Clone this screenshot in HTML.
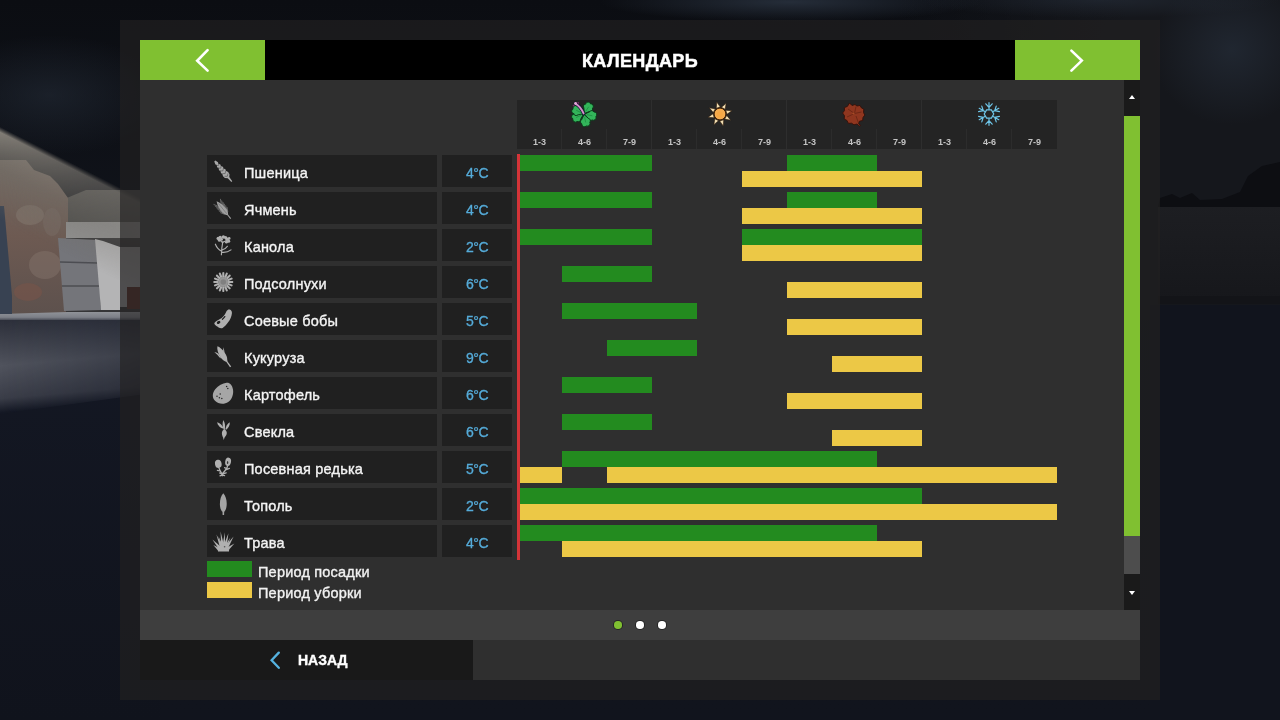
<!DOCTYPE html>
<html><head><meta charset="utf-8"><title>Календарь</title>
<style>
*{margin:0;padding:0;box-sizing:border-box}
html,body{width:1280px;height:720px;overflow:hidden;background:#10131b;font-family:"Liberation Sans",sans-serif}
#bg{position:absolute;left:0;top:0;width:1280px;height:720px}
#frame{position:absolute;left:120px;top:20px;width:1040px;height:680px;background:rgba(35,34,33,.63)}
.abs,.rb,.tb,.rn,.ci,.g,.y,.red{position:absolute}
#title,#backt,.rn,.tb,.sl,.lg{will-change:transform}
#hdr{left:140px;top:40px;width:1000px;height:40px;background:#000}
.gbtn{top:40px;width:125px;height:40px;background:#80c031}
#title{left:140px;top:40px;width:1000px;height:40px;line-height:43.400px;text-align:center;color:#fff;font-weight:bold;font-size:18px;letter-spacing:.4px;-webkit-text-stroke:.5px #fff}
#content{left:140px;top:80px;width:1000px;height:530px;background:#2f2f2f}
#pager{left:140px;top:610px;width:1000px;height:30px;background:#3e3e3e}
#bottom{left:140px;top:640px;width:1000px;height:40px;background:#2f2f2f}
#back{left:140px;top:640px;width:333px;height:40px;background:#191919}
#backt{left:297.700px;top:640px;height:40px;line-height:40px;color:#fff;font-weight:bold;font-size:14px;-webkit-text-stroke:.4px #fff}
.rb{left:207px;width:230px;height:32px;background:#202020}
.tb{left:442px;width:70px;height:32px;background:#202020;color:#55abd9;font-size:14px;text-align:center;line-height:37px;letter-spacing:-.5px;-webkit-text-stroke:.3px #55abd9}
.rn{left:244px;height:32px;line-height:37px;color:#f4f4f4;font-size:14.5px;letter-spacing:.2px;white-space:nowrap;-webkit-text-stroke:.35px #f4f4f4}
.ci{left:207px}
.g{height:16px;background:#238b1f}
.y{height:16px;background:#ecc846}
.red{left:516.5px;top:153.500px;width:3px;height:406px;background:#d43438}
#shead{left:517px;top:99.500px;width:540px;height:49px;background:#242424}
.sl{position:absolute;top:136.500px;width:45px;text-align:center;color:#c4c4c4;font-size:9px;font-weight:bold;line-height:10px}
.sep{position:absolute;top:99px;width:1px;height:50px;background:#2e2e2e}
.tick{position:absolute;top:129px;width:1px;height:20px;background:#2c2c2c}
.lg{position:absolute;left:257.5px;color:#f2f2f2;font-size:14.5px;letter-spacing:.2px;line-height:16px;white-space:nowrap;-webkit-text-stroke:.35px #f2f2f2}
.dot{position:absolute;top:621.250px;width:7.500px;height:7.500px;border-radius:50%;background:#fff;box-shadow:0 0 0 1px rgba(34,34,34,.85)}
#sb{left:1124px;top:80px;width:16px;height:530px;background:#1a1a1a}
#sbthumb{left:1124px;top:116px;width:16px;height:420px;background:#80c031}
#sbtrack{left:1124px;top:536px;width:16px;height:38px;background:#4d4d4d}
</style></head><body>
<svg id="bg" width="1280" height="720" viewBox="0 0 1280 720">
<defs>
<linearGradient id="sky" x1="0" y1="0" x2="0" y2="1"><stop offset="0" stop-color="#0b0d12"/><stop offset=".3" stop-color="#10131a"/><stop offset="1" stop-color="#11141d"/></linearGradient>
<linearGradient id="skyr" x1="0" y1="0" x2="1" y2="0"><stop offset="0" stop-color="#15171c" stop-opacity="0"/><stop offset=".6" stop-color="#15171c" stop-opacity="1"/><stop offset="1" stop-color="#15171c" stop-opacity="1"/></linearGradient>
<linearGradient id="gnd" x1="0" y1="0" x2="0" y2="1"><stop offset="0" stop-color="#666971"/><stop offset=".12" stop-color="#50535c"/><stop offset=".35" stop-color="#363a45"/><stop offset=".7" stop-color="#1b1f2a"/><stop offset="1" stop-color="#11141d"/></linearGradient>
<linearGradient id="beam" gradientUnits="userSpaceOnUse" x1="60" y1="157" x2="22" y2="232"><stop offset="0" stop-color="#77726a" stop-opacity="0"/><stop offset=".06" stop-color="#87827a" stop-opacity=".95"/><stop offset=".45" stop-color="#726e67" stop-opacity=".7"/><stop offset="1" stop-color="#6a665f" stop-opacity="0"/></linearGradient>
<linearGradient id="bfade" x1="0" y1="0" x2="1" y2="0"><stop offset="0" stop-color="#fff"/><stop offset=".55" stop-color="#999"/><stop offset="1" stop-color="#555"/></linearGradient>
<mask id="bm"><rect x="0" y="100" width="160" height="220" fill="url(#bfade)"/></mask>
<radialGradient id="cloud" cx=".5" cy=".5" r=".5"><stop offset="0" stop-color="#252d39"/><stop offset="1" stop-color="#252d39" stop-opacity="0"/></radialGradient>
<linearGradient id="rwall" x1="0" y1="0" x2="0" y2="1"><stop offset="0" stop-color="#1d1e22"/><stop offset="1" stop-color="#16171b"/></linearGradient>
<linearGradient id="brick" x1="0" y1="0" x2="0" y2="1"><stop offset="0" stop-color="#756760"/><stop offset=".5" stop-color="#6d5a52"/><stop offset="1" stop-color="#5d514d"/></linearGradient>
<linearGradient id="gl" x1="0" y1="0" x2="0" y2="1"><stop offset="0" stop-color="#94979d"/><stop offset=".7" stop-color="#7c7f87"/><stop offset="1" stop-color="#4a4d57"/></linearGradient>
<linearGradient id="gb" gradientUnits="userSpaceOnUse" x1="0" y1="319" x2="8" y2="412"><stop offset="0" stop-color="#2c2f3a"/><stop offset=".5" stop-color="#50535d"/><stop offset=".85" stop-color="#3a3d48"/><stop offset="1" stop-color="#141824"/></linearGradient>
<linearGradient id="gmf" x1="0" y1="0" x2="1" y2="0"><stop offset="0" stop-color="#fff"/><stop offset="1" stop-color="#9a9a9a"/></linearGradient>
<mask id="gm"><rect x="0" y="300" width="160" height="130" fill="url(#gmf)"/></mask>
<linearGradient id="gbase" x1="0" y1="0" x2="0" y2="1"><stop offset="0" stop-color="#141824"/><stop offset="1" stop-color="#10131c"/></linearGradient>
</defs>
<rect width="1280" height="720" fill="url(#sky)"/>
<rect x="900" y="0" width="380" height="320" fill="url(#skyr)"/>
<ellipse cx="790" cy="2" rx="190" ry="20" fill="url(#cloud)"/>
<ellipse cx="1232" cy="50" rx="80" ry="75" fill="url(#cloud)" opacity=".7"/>
<ellipse cx="1100" cy="0" rx="180" ry="18" fill="url(#cloud)" opacity=".6"/>
<ellipse cx="50" cy="95" rx="120" ry="60" fill="url(#cloud)" opacity=".55"/>
<!-- left scene -->
<rect x="0" y="312" width="160" height="408" fill="url(#gbase)"/>

<polygon points="0,319 160,319 160,392 0,414" fill="url(#gb)" mask="url(#gm)"/>
<rect x="0" y="311" width="160" height="9" fill="url(#gl)"/>
<polygon points="62,200 86,190 160,190 160,224 66,224" fill="#4b4b4a"/>
<polygon points="0,160 26,160 34,170 50,176 58,184 68,198 68,312 0,314" fill="url(#brick)"/>
<ellipse cx="30" cy="215" rx="14" ry="10" fill="#8a7d74" opacity=".5"/><ellipse cx="45" cy="265" rx="16" ry="14" fill="#85766c" opacity=".45"/><ellipse cx="28" cy="292" rx="14" ry="9" fill="#7c5348" opacity=".5"/><ellipse cx="52" cy="222" rx="9" ry="14" fill="#7d6f68" opacity=".45"/>
<polygon points="0,206 4,206 12,296 12,314 0,314" fill="#384252"/>
<rect x="66" y="222" width="94" height="16" fill="#949494"/>
<rect x="66" y="238" width="94" height="74" fill="#353537"/>
<polygon points="58,238 97,240 101,310 64,311" fill="#74757a"/>
<path d="M60,262 L98,263 M62,286 L99,286" stroke="#4c4d52" stroke-width="1.5"/>
<polygon points="95,239 103,241 120,247 120,310 101,310" fill="#b4b4b5"/>
<rect x="120" y="247" width="24" height="60" fill="#98989a"/>
<rect x="127" y="287" width="14" height="22" fill="#56302a"/>
<polygon points="0,126 160,208 160,330 0,250" fill="url(#beam)" mask="url(#bm)"/>
<!-- right scene -->
<rect x="1158" y="206" width="122" height="98" fill="url(#rwall)"/>
<path d="M1158,207 L1160,198 L1172,194 L1180,198 L1192,193 L1200,200 L1222,199 L1240,192 L1248,176 L1262,166 L1280,162 L1280,207 Z" fill="#0d0e12"/>
<rect x="1150" y="305" width="130" height="415" fill="#11141d"/>
<rect x="1158" y="296" width="122" height="8" fill="#131418"/>
</svg>
<div id="frame"></div>
<div id="hdr" class="abs"></div>
<div class="abs gbtn" style="left:140px"></div>
<div class="abs gbtn" style="left:1015px"></div>
<svg class="abs" style="left:190px;top:44px" width="26" height="32" viewBox="0 0 26 32"><path d="M17.6,6.2 L7.2,16.8 L17.6,26.6" fill="none" stroke="#fff" stroke-width="2.6" stroke-linecap="round" stroke-linejoin="miter"/></svg>
<svg class="abs" style="left:1064px;top:44px" width="26" height="32" viewBox="0 0 26 32"><path d="M7.4,6.6 L17.8,16.6 L7.4,26.6" fill="none" stroke="#fff" stroke-width="2.6" stroke-linecap="round" stroke-linejoin="miter"/></svg>
<div id="title" class="abs">КАЛЕНДАРЬ</div>
<div id="content" class="abs"></div>
<div id="shead" class="abs"></div>
<div class="sl" style="left:517px">1-3</div>
<div class="sl" style="left:562px">4-6</div>
<div class="tick" style="left:561px"></div>
<div class="sl" style="left:607px">7-9</div>
<div class="tick" style="left:606px"></div>
<div class="sl" style="left:652px">1-3</div>
<div class="sep" style="left:651px"></div>
<div class="sl" style="left:697px">4-6</div>
<div class="tick" style="left:696px"></div>
<div class="sl" style="left:742px">7-9</div>
<div class="tick" style="left:741px"></div>
<div class="sl" style="left:787px">1-3</div>
<div class="sep" style="left:786px"></div>
<div class="sl" style="left:832px">4-6</div>
<div class="tick" style="left:831px"></div>
<div class="sl" style="left:877px">7-9</div>
<div class="tick" style="left:876px"></div>
<div class="sl" style="left:922px">1-3</div>
<div class="sep" style="left:921px"></div>
<div class="sl" style="left:967px">4-6</div>
<div class="tick" style="left:966px"></div>
<div class="sl" style="left:1012px">7-9</div>
<div class="tick" style="left:1011px"></div>
<svg class="abs" style="left:569px;top:99px" width="30" height="30" viewBox="-15 -15 30 30"><g transform="rotate(-57.2)"><path d="M0.6,0 L5.2,-3.5 A2.3,2.3 0 0 1 9.2,-4.1 A2.7,2.7 0 0 1 12.2,0 A2.7,2.7 0 0 1 9.2,4.1 A2.3,2.3 0 0 1 5.2,3.5 Z" fill="#33b45a" stroke="#0b3a1a" stroke-width=".9" stroke-linejoin="round"/><path d="M3,0 L8.6,0" stroke="#1d8a40" stroke-width=".7" fill="none"/></g><g transform="rotate(12.2)"><path d="M0.6,0 L5.2,-3.5 A2.3,2.3 0 0 1 9.2,-4.1 A2.7,2.7 0 0 1 12.2,0 A2.7,2.7 0 0 1 9.2,4.1 A2.3,2.3 0 0 1 5.2,3.5 Z" fill="#33b45a" stroke="#0b3a1a" stroke-width=".9" stroke-linejoin="round"/><path d="M3,0 L8.6,0" stroke="#1d8a40" stroke-width=".7" fill="none"/></g><g transform="rotate(78.8)"><path d="M0.6,0 L5.2,-3.5 A2.3,2.3 0 0 1 9.2,-4.1 A2.7,2.7 0 0 1 12.2,0 A2.7,2.7 0 0 1 9.2,4.1 A2.3,2.3 0 0 1 5.2,3.5 Z" fill="#33b45a" stroke="#0b3a1a" stroke-width=".9" stroke-linejoin="round"/><path d="M3,0 L8.6,0" stroke="#1d8a40" stroke-width=".7" fill="none"/></g><g transform="rotate(156.3)"><path d="M0.6,0 L5.2,-3.5 A2.3,2.3 0 0 1 9.2,-4.1 A2.7,2.7 0 0 1 12.2,0 A2.7,2.7 0 0 1 9.2,4.1 A2.3,2.3 0 0 1 5.2,3.5 Z" fill="#33b45a" stroke="#0b3a1a" stroke-width=".9" stroke-linejoin="round"/><path d="M3,0 L8.6,0" stroke="#1d8a40" stroke-width=".7" fill="none"/></g><g transform="rotate(-154.5)"><path d="M0.6,0 L5.2,-3.5 A2.3,2.3 0 0 1 9.2,-4.1 A2.7,2.7 0 0 1 12.2,0 A2.7,2.7 0 0 1 9.2,4.1 A2.3,2.3 0 0 1 5.2,3.5 Z" fill="#33b45a" stroke="#0b3a1a" stroke-width=".9" stroke-linejoin="round"/><path d="M3,0 L8.6,0" stroke="#1d8a40" stroke-width=".7" fill="none"/></g><path d="M-8.6,-10.4 C-5,-8.5 -2.2,-4.5 -0.4,-0.6" fill="none" stroke="#0e1430" stroke-width="3.4" stroke-linecap="round"/><path d="M-8.6,-10.4 C-5,-8.5 -2.2,-4.5 -0.4,-0.6" fill="none" stroke="#d590c8" stroke-width="1.9" stroke-linecap="round"/><circle cx="-8.4" cy="-10.6" r="1.4" fill="#e3a6d6"/><circle cx="-5.8" cy="-11.2" r=".9" fill="#7a2a6a"/><circle cx="-10.4" cy="-8.4" r=".9" fill="#7a2a6a"/></svg>
<svg class="abs" style="left:704.5px;top:99px" width="30" height="30" viewBox="-15 -15 30 30"><g transform="rotate(-105)"><path d="M6.6,-2.1 L12.3,0 L6.6,2.1Z" fill="#f3e0b4" stroke="#2a1606" stroke-width=".5"/></g><g transform="rotate(-60)"><path d="M6.6,-2.1 L12.3,0 L6.6,2.1Z" fill="#f3e0b4" stroke="#2a1606" stroke-width=".5"/></g><g transform="rotate(-15)"><path d="M6.6,-2.1 L12.3,0 L6.6,2.1Z" fill="#f3e0b4" stroke="#2a1606" stroke-width=".5"/></g><g transform="rotate(30)"><path d="M6.6,-2.1 L12.3,0 L6.6,2.1Z" fill="#f3e0b4" stroke="#2a1606" stroke-width=".5"/></g><g transform="rotate(75)"><path d="M6.6,-2.1 L12.3,0 L6.6,2.1Z" fill="#f3e0b4" stroke="#2a1606" stroke-width=".5"/></g><g transform="rotate(120)"><path d="M6.6,-2.1 L12.3,0 L6.6,2.1Z" fill="#f3e0b4" stroke="#2a1606" stroke-width=".5"/></g><g transform="rotate(165)"><path d="M6.6,-2.1 L12.3,0 L6.6,2.1Z" fill="#f3e0b4" stroke="#2a1606" stroke-width=".5"/></g><g transform="rotate(210)"><path d="M6.6,-2.1 L12.3,0 L6.6,2.1Z" fill="#f3e0b4" stroke="#2a1606" stroke-width=".5"/></g><circle r="5.9" fill="#f5ab4e" stroke="#3b1c02" stroke-width="1"/><circle r="3" cx="-.3" cy=".6" fill="#f7a53c" opacity=".6"/></svg>
<svg class="abs" style="left:839px;top:98.500px" width="30" height="30" viewBox="-15 -15 30 30"><path d="M-4.5,-11 L-2,-8.5 L1,-9.5 L3,-8 L6,-8.5 L7.5,-6 L9.8,-5 L9.5,-1.5 L10.8,1 L9,3.5 L8.6,6.5 L5.5,7.2 L4.6,9.6 L6.6,11.4 L5.4,12 L3,10 L0,10.8 L-2.5,9.2 L-5.6,9.4 L-7,6.5 L-9.8,5 L-9.5,1.8 L-11.4,-1 L-9.5,-3.4 L-9.6,-6.4 L-6.6,-7.6 Z" fill="#8f361f" stroke="#33110a" stroke-width=".9"/><path d="M0.5,-0.5 L-6,-5 M0.5,-.5 L-7,3 M0.5,-.5 L2,-7.5 M0.5,-.5 L7.5,-2 M2,2 L4.5,9" stroke="#5b1f10" stroke-width=".8" fill="none" opacity=".8"/><circle cx="-.5" cy="-.5" r="1.1" fill="#a84c26"/></svg>
<svg class="abs" style="left:974.25px;top:99px" width="30" height="30" viewBox="-15 -15 30 30"><g stroke="#6fc6e9" stroke-width="1.2" fill="none" stroke-linecap="round"><polygon points="4.80,0.00 2.40,4.16 -2.40,4.16 -4.80,0.00 -2.40,-4.16 2.40,-4.16"/><g transform="rotate(-90)"><path d="M4.8,0 L11.3,0 M6.6,0 L10.2,-3.2 M6.6,0 L10.2,3.2"/></g><g transform="rotate(-30)"><path d="M4.8,0 L11.3,0 M6.6,0 L10.2,-3.2 M6.6,0 L10.2,3.2"/></g><g transform="rotate(30)"><path d="M4.8,0 L11.3,0 M6.6,0 L10.2,-3.2 M6.6,0 L10.2,3.2"/></g><g transform="rotate(90)"><path d="M4.8,0 L11.3,0 M6.6,0 L10.2,-3.2 M6.6,0 L10.2,3.2"/></g><g transform="rotate(150)"><path d="M4.8,0 L11.3,0 M6.6,0 L10.2,-3.2 M6.6,0 L10.2,3.2"/></g><g transform="rotate(210)"><path d="M4.8,0 L11.3,0 M6.6,0 L10.2,-3.2 M6.6,0 L10.2,3.2"/></g></g></svg>

<div class="rb" style="top:155px"></div><div class="tb" style="top:155px">4°C</div>
<div class="rn" style="top:155px">Пшеница</div>
<svg class="ci" style="top:155px" width="30" height="32" viewBox="0 0 30 32"><g transform="translate(7.8 6) rotate(50.6)"><polygon points="0,-0.7 3,-1.7 4,-1.1 6.5,-2.2 7.5,-1.5 10,-2.6 11,-1.9 13.5,-3.0 14.5,-2.3 17,-3.3 19.5,-3.0 21.6,-1.0 26.8,-0.6 26.8,0.6 21.6,1.0 19.5,3.0 17,3.3 14.5,2.3 13.5,3.0 11,1.9 10,2.6 7.5,1.5 6.5,2.2 4,1.1 3,1.7 0,0.7" fill="#a8a8a8"/><path d="M4,-2.2 L5.8,0 L4,2.2" stroke="#1e1e1e" stroke-width=".55" fill="none" opacity=".65"/><path d="M7.5,-2.2 L9.3,0 L7.5,2.2" stroke="#1e1e1e" stroke-width=".55" fill="none" opacity=".65"/><path d="M11,-2.2 L12.8,0 L11,2.2" stroke="#1e1e1e" stroke-width=".55" fill="none" opacity=".65"/><path d="M14.5,-2.2 L16.3,0 L14.5,2.2" stroke="#1e1e1e" stroke-width=".55" fill="none" opacity=".65"/><path d="M18,-2.2 L19.8,0 L18,2.2" stroke="#1e1e1e" stroke-width=".55" fill="none" opacity=".65"/></g></svg>
<div class="rb" style="top:192px"></div><div class="tb" style="top:192px">4°C</div>
<div class="rn" style="top:192px">Ячмень</div>
<svg class="ci" style="top:192px" width="30" height="32" viewBox="0 0 30 32"><g transform="translate(9.6 9.2) rotate(51)"><path d="M0,0 C3,-1.8 8,-3.1 12.5,-2.9 C15,-2.6 16.6,-1.2 17.8,-0.5 L22.4,-0.6 L22.4,0.6 L17.8,0.5 C16.6,1.2 15,2.6 12.5,2.9 C8,3.1 3,1.8 0,0Z" fill="#a0a0a0"/><g stroke="#8a8a8a" stroke-width=".8" stroke-linecap="round" opacity=".75"><path d="M4.5,-2.2 L0.8999999999999999,-4.2"/><path d="M4.5,2.2 L0.8999999999999999,4.2"/><path d="M6.6,-2.2 L2.9999999999999996,-4.2"/><path d="M6.6,2.2 L2.9999999999999996,4.2"/><path d="M8.7,-2.2 L5.1,-4.2"/><path d="M8.7,2.2 L5.1,4.2"/><path d="M10.8,-2.2 L7.200000000000001,-4.2"/><path d="M10.8,2.2 L7.200000000000001,4.2"/><path d="M12.9,-2.2 L9.3,-4.2"/><path d="M12.9,2.2 L9.3,4.2"/><path d="M15.0,-2.2 L11.4,-4.2"/><path d="M15.0,2.2 L11.4,4.2"/></g><path d="M3,0 L16,0" stroke="#1e1e1e" stroke-width=".5" opacity=".45"/></g></svg>
<div class="rb" style="top:229px"></div><div class="tb" style="top:229px">2°C</div>
<div class="rn" style="top:229px">Канола</div>
<svg class="ci" style="top:229px" width="30" height="32" viewBox="0 0 30 32"><g stroke="#b0b0b0" stroke-width="1.15" stroke-linecap="round" fill="none"><path d="M14.4,25.8 C14.6,21 15,16.6 15.8,12.6 M15.6,14 L13.2,11 M15.7,13.4 L19.4,11.6 M8.4,15.2 C9.6,18.4 12,20.8 14.7,22.2 M20.4,17.3 C19.4,19 17.4,20.3 15.1,21 M14.7,23.2 C18,23.6 21.4,22.8 24,20.9"/></g><g fill="#b0b0b0"><circle cx="11.2" cy="9.4" r="1.7"/><circle cx="13.2" cy="8.4" r="1.7"/><circle cx="12.4" cy="11.2" r="1.5"/><circle cx="14.6" cy="10.4" r="1.4"/><circle cx="16.4" cy="8" r="1.7"/><circle cx="18.6" cy="8.6" r="1.6"/><circle cx="20.2" cy="10.2" r="1.8"/><circle cx="21.6" cy="12.2" r="1.6"/><circle cx="19.4" cy="13.2" r="1.4"/><circle cx="22.2" cy="9.4" r="1.3"/></g></svg>
<div class="rb" style="top:266px"></div><div class="tb" style="top:266px">6°C</div>
<div class="rn" style="top:266px">Подсолнухи</div>
<svg class="ci" style="top:266px" width="30" height="32" viewBox="0 0 30 32"><g transform="translate(16.3 16)"><g fill="#b0b0b0"><path transform="rotate(0.0)" d="M4.6,-1.1 L9.6,-1.0 Q10.6,0 9.6,1.0 L4.6,1.1Z"/><path transform="rotate(22.5)" d="M4.6,-1.1 L9.6,-1.0 Q10.6,0 9.6,1.0 L4.6,1.1Z"/><path transform="rotate(45.0)" d="M4.6,-1.1 L9.6,-1.0 Q10.6,0 9.6,1.0 L4.6,1.1Z"/><path transform="rotate(67.5)" d="M4.6,-1.1 L9.6,-1.0 Q10.6,0 9.6,1.0 L4.6,1.1Z"/><path transform="rotate(90.0)" d="M4.6,-1.1 L9.6,-1.0 Q10.6,0 9.6,1.0 L4.6,1.1Z"/><path transform="rotate(112.5)" d="M4.6,-1.1 L9.6,-1.0 Q10.6,0 9.6,1.0 L4.6,1.1Z"/><path transform="rotate(135.0)" d="M4.6,-1.1 L9.6,-1.0 Q10.6,0 9.6,1.0 L4.6,1.1Z"/><path transform="rotate(157.5)" d="M4.6,-1.1 L9.6,-1.0 Q10.6,0 9.6,1.0 L4.6,1.1Z"/><path transform="rotate(180.0)" d="M4.6,-1.1 L9.6,-1.0 Q10.6,0 9.6,1.0 L4.6,1.1Z"/><path transform="rotate(202.5)" d="M4.6,-1.1 L9.6,-1.0 Q10.6,0 9.6,1.0 L4.6,1.1Z"/><path transform="rotate(225.0)" d="M4.6,-1.1 L9.6,-1.0 Q10.6,0 9.6,1.0 L4.6,1.1Z"/><path transform="rotate(247.5)" d="M4.6,-1.1 L9.6,-1.0 Q10.6,0 9.6,1.0 L4.6,1.1Z"/><path transform="rotate(270.0)" d="M4.6,-1.1 L9.6,-1.0 Q10.6,0 9.6,1.0 L4.6,1.1Z"/><path transform="rotate(292.5)" d="M4.6,-1.1 L9.6,-1.0 Q10.6,0 9.6,1.0 L4.6,1.1Z"/><path transform="rotate(315.0)" d="M4.6,-1.1 L9.6,-1.0 Q10.6,0 9.6,1.0 L4.6,1.1Z"/><path transform="rotate(337.5)" d="M4.6,-1.1 L9.6,-1.0 Q10.6,0 9.6,1.0 L4.6,1.1Z"/></g><circle r="4.9" fill="#969696"/><circle r="2.8" fill="#808080"/></g></svg>
<div class="rb" style="top:303px"></div><div class="tb" style="top:303px">5°C</div>
<div class="rn" style="top:303px">Соевые бобы</div>
<svg class="ci" style="top:303px" width="30" height="32" viewBox="0 0 30 32"><path d="M22.7,6.6 C24.2,7 25.2,8.6 24.9,10.4 C24.6,13.6 23.2,16.6 21.3,19.1 C19.6,21.6 17.6,23.8 15.6,24.9 C14.2,25.4 12.8,25 11.6,24.4 C10.6,23.6 9,23 7.8,21.6 C6.8,20.6 7.6,19.4 8.8,18.6 C9.6,18 10.2,17.6 11.2,17 C12.4,16.4 13.6,15.8 14.7,15.1 C16,14 17,12.8 17.8,11.6 C18.6,10.2 19,9.2 19.6,8 C20.4,6.8 21.6,6.2 22.7,6.6Z" fill="#b0b0b0"/><ellipse cx="11.6" cy="19.4" rx="1.9" ry="1.4" fill="#1e1e1e" transform="rotate(-35 11.6 19.4)"/><path d="M15.4,16.2 C16.4,15.4 17.2,14.4 17.8,13.6" stroke="#1e1e1e" stroke-width="1.3" fill="none" stroke-linecap="round"/></svg>
<div class="rb" style="top:340px"></div><div class="tb" style="top:340px">9°C</div>
<div class="rn" style="top:340px">Кукуруза</div>
<svg class="ci" style="top:340px" width="30" height="32" viewBox="0 0 30 32"><path d="M10.4,6.2 C12.6,6.6 15.4,9.4 17.6,12.6 C19.4,15.2 20.4,17.6 20.2,19.4 L20.6,21.4 L24.2,26.4 L23,27.2 L19.4,22 C17.6,21.6 15,19.6 13.2,16.8 C11.2,13.6 9.8,9.2 10.4,6.2Z" fill="#b0b0b0"/><path d="M7.4,12.2 C9.6,12 11.8,13.6 13,16 L14.2,18.4 L12.6,17.6 C11.4,15.6 9.6,13.6 7.4,12.2Z" fill="#b0b0b0"/><path d="M16.2,7.2 C17,9 17.4,11 17.6,12.8 L16.2,11.4 C16.2,10 16.2,8.6 16.2,7.2Z" fill="#b0b0b0"/></svg>
<div class="rb" style="top:377px"></div><div class="tb" style="top:377px">6°C</div>
<div class="rn" style="top:377px">Картофель</div>
<svg class="ci" style="top:377px" width="30" height="32" viewBox="0 0 30 32"><path d="M19.6,5.8 C22.6,5.4 25.2,8 26,12.4 C26.8,17.2 25,22.2 21.2,25 C17.4,27.6 11.4,27.4 8,23.8 C5,20.6 5.2,15.8 8.2,12.2 C11.2,8.6 15.6,6.2 19.6,5.8Z" fill="#a6a6a6"/><circle cx="10" cy="19.2" r=".75" fill="#262626"/><circle cx="13.2" cy="17" r=".75" fill="#262626"/><circle cx="12.4" cy="20.8" r=".75" fill="#262626"/><circle cx="14.8" cy="21.4" r=".75" fill="#262626"/><circle cx="19.6" cy="9.4" r=".75" fill="#262626"/><circle cx="20.8" cy="11.4" r=".75" fill="#262626"/></svg>
<div class="rb" style="top:414px"></div><div class="tb" style="top:414px">6°C</div>
<div class="rn" style="top:414px">Свекла</div>
<svg class="ci" style="top:414px" width="30" height="32" viewBox="0 0 30 32"><g fill="#b0b0b0"><path d="M17.3,15 C19.2,16 20.2,18 19.7,20 C19.3,21.6 18.2,22.6 17.6,23.6 L16.7,26 L16.1,23.6 C15.6,22.4 15,21.4 14.9,19.8 C14.8,17.8 15.6,16 17.3,15Z"/><path d="M16.6,15.6 C15.4,12.6 15.2,9 16.4,6 C18,8.6 18.4,12.4 17.8,15.6Z"/><path d="M15.6,14.6 C13.2,13.6 10.8,11.6 10,8.2 C12.8,8.8 15.2,11 16.4,13.8Z"/><path d="M18.4,15.2 C18.8,12.4 20.4,9.6 22.8,8.2 C23,11.4 21.4,14 19.2,15.8Z"/></g></svg>
<div class="rb" style="top:451px"></div><div class="tb" style="top:451px">5°C</div>
<div class="rn" style="top:451px">Посевная редька</div>
<svg class="ci" style="top:451px" width="30" height="32" viewBox="0 0 30 32"><g fill="#b0b0b0"><ellipse cx="11.3" cy="12.9" rx="3.3" ry="4.1" transform="rotate(-10 11.3 12.9)"/><ellipse cx="21.1" cy="10.8" rx="2.9" ry="4.2" transform="rotate(10 21.1 10.8)"/></g><ellipse cx="20.6" cy="11.6" rx=".7" ry="1.5" fill="#333"/><g stroke="#b0b0b0" stroke-width="1.25" fill="none" stroke-linecap="round"><path d="M12,17 C12.6,19.6 13.8,21.2 15.1,23 M20.6,15 C20,17.6 17.4,20.6 15.1,23 M15.1,23 L15.2,24.8 M10.4,19.4 L13.2,20 M17.6,16.6 L20.2,18 M18.6,19 L22.4,17.4 M12.6,22 L15.1,23 L19.2,21.8 M13,24.8 L15.1,24 L17.6,24.6"/></g></svg>
<div class="rb" style="top:488px"></div><div class="tb" style="top:488px">2°C</div>
<div class="rn" style="top:488px">Тополь</div>
<svg class="ci" style="top:488px" width="30" height="32" viewBox="0 0 30 32"><path d="M16.3,5.2 C18.6,7.4 19.9,12 19.7,16.4 C19.6,19.8 18.6,22.6 17.2,23.8 L17.1,27 L15.6,27 L15.5,23.8 C14,22.6 13,19.8 12.9,16.4 C12.8,12 14,7.4 16.3,5.2Z" fill="#a4a4a4"/></svg>
<div class="rb" style="top:525px"></div><div class="tb" style="top:525px">4°C</div>
<div class="rn" style="top:525px">Трава</div>
<svg class="ci" style="top:525px" width="30" height="32" viewBox="0 0 30 32"><g fill="#b0b0b0"><path d="M11,26.4 C10.4,23.4 12,21 14.4,20 L18.6,19.6 C21.4,20.6 22.6,23.4 22,26.4Z"/><path d="M5.4,14.4 L11.4,23.5 L13.6,21.5Z"/><path d="M9.4,9.4 L12.8,22.1 L15.6,20.9Z"/><path d="M13.6,6.6 L14.1,21.2 L17.1,20.8Z"/><path d="M17.8,7.4 L15.4,20.9 L18.2,21.1Z"/><path d="M21.4,8.2 L16.7,20.6 L19.7,21.4Z"/><path d="M26.6,11.4 L18.5,21.1 L21.1,22.9Z"/><path d="M27.4,18.6 L19.7,22.8 L21.5,25.2Z"/><path d="M6.4,20 L11.1,25.7 L12.9,23.3Z"/><path d="M11.6,11.4 L13.7,21.8 L15.9,21.0Z"/><path d="M23.4,12.6 L17.9,21.1 L20.1,22.1Z"/></g><circle cx="17.6" cy="21.8" r=".8" fill="#555"/></svg>
<div class="g" style="left:517px;top:155px;width:135px"></div>
<div class="g" style="left:787px;top:155px;width:90px"></div>
<div class="y" style="left:742px;top:171px;width:180px"></div>
<div class="g" style="left:517px;top:192px;width:135px"></div>
<div class="g" style="left:787px;top:192px;width:90px"></div>
<div class="y" style="left:742px;top:208px;width:180px"></div>
<div class="g" style="left:517px;top:229px;width:135px"></div>
<div class="g" style="left:742px;top:229px;width:180px"></div>
<div class="y" style="left:742px;top:245px;width:180px"></div>
<div class="g" style="left:562px;top:266px;width:90px"></div>
<div class="y" style="left:787px;top:282px;width:135px"></div>
<div class="g" style="left:562px;top:303px;width:135px"></div>
<div class="y" style="left:787px;top:319px;width:135px"></div>
<div class="g" style="left:607px;top:340px;width:90px"></div>
<div class="y" style="left:832px;top:356px;width:90px"></div>
<div class="g" style="left:562px;top:377px;width:90px"></div>
<div class="y" style="left:787px;top:393px;width:135px"></div>
<div class="g" style="left:562px;top:414px;width:90px"></div>
<div class="y" style="left:832px;top:430px;width:90px"></div>
<div class="g" style="left:562px;top:451px;width:315px"></div>
<div class="y" style="left:517px;top:467px;width:45px"></div>
<div class="y" style="left:607px;top:467px;width:450px"></div>
<div class="g" style="left:517px;top:488px;width:405px"></div>
<div class="y" style="left:517px;top:504px;width:540px"></div>
<div class="g" style="left:517px;top:525px;width:360px"></div>
<div class="y" style="left:562px;top:541px;width:360px"></div>
<div class="red"></div>
<div class="g abs" style="left:207px;top:561px;width:45px"></div>
<div class="y abs" style="left:207px;top:582px;width:45px"></div>
<div class="lg" style="top:564px">Период посадки</div>
<div class="lg" style="top:585px">Период уборки</div>
<div id="sb" class="abs"></div>
<div id="sbthumb" class="abs"></div>
<div id="sbtrack" class="abs"></div>
<svg class="abs" style="left:1124px;top:80px" width="16" height="36" viewBox="0 0 16 36"><path d="M5,18.9 L11,18.9 L8,14.9Z" fill="#fff"/></svg>
<svg class="abs" style="left:1124px;top:574px" width="16" height="36" viewBox="0 0 16 36"><path d="M5,16.9 L11,16.9 L8,20.9Z" fill="#fff"/></svg>
<div id="pager" class="abs"></div>
<div class="dot" style="left:614.250px;background:#80c031"></div>
<div class="dot" style="left:636.250px"></div>
<div class="dot" style="left:658.250px"></div>
<div id="bottom" class="abs"></div>
<div id="back" class="abs"></div>
<svg class="abs" style="left:265px;top:645px" width="20" height="30" viewBox="0 0 20 30"><path d="M13.8,7.6 L6.6,15.2 L13.8,22.8" fill="none" stroke="#55b2e0" stroke-width="2.3" stroke-linecap="round"/></svg>
<div id="backt" class="abs">НАЗАД</div>
</body></html>
